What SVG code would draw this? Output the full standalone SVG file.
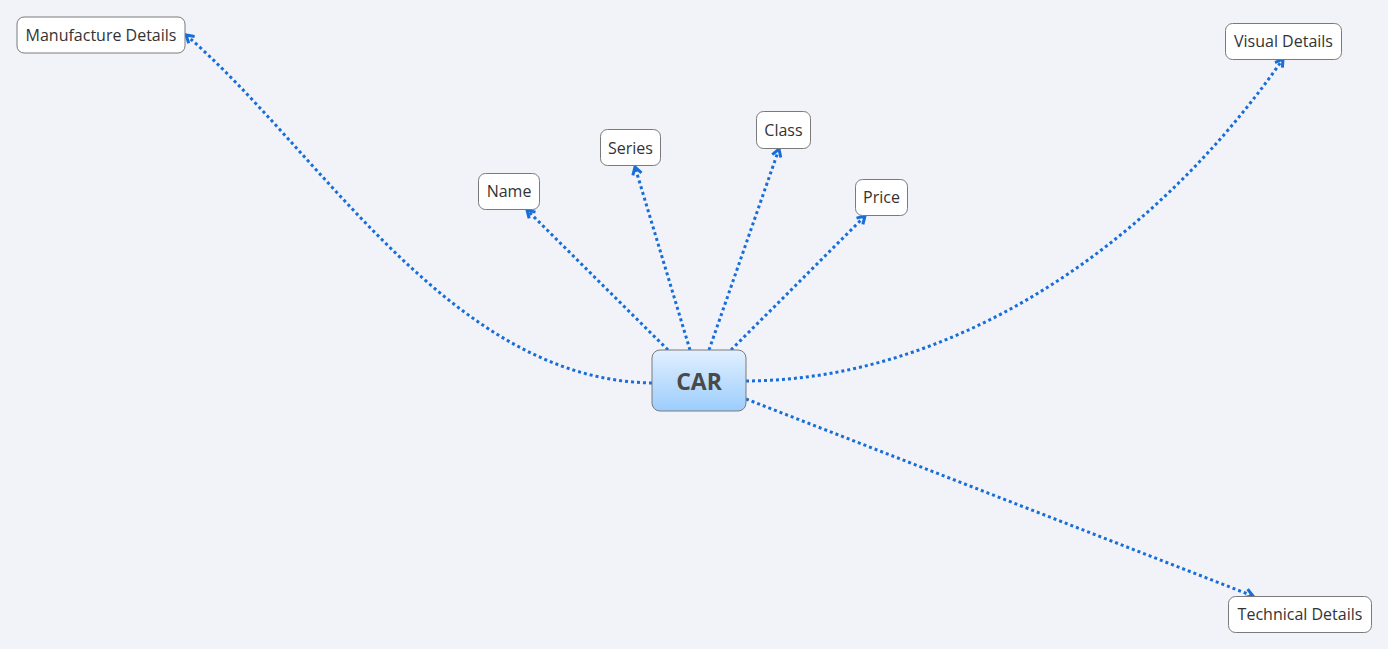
<svg xmlns="http://www.w3.org/2000/svg" width="1388" height="649" viewBox="0 0 1388 649">
<style>
.bg{fill:#f2f3f9}
.box{fill:#ffffff;stroke:#7a7a7a;stroke-width:1}
.lbl{font-family:"Segoe UI","Open Sans","Noto Sans",sans-serif;font-size:16px;fill:#333333;text-anchor:middle;dominant-baseline:central}
.root{font-family:"Open Sans","Noto Sans",sans-serif;font-size:23px;font-weight:bold;fill:#4a4a4a;text-anchor:middle;dominant-baseline:central}
.con{fill:none;stroke:#176ed8;stroke-width:3;stroke-dasharray:3 3}
</style>
<defs>
<linearGradient id="g" x1="0" y1="0" x2="0" y2="1">
<stop offset="0" stop-color="#e2f0ff"/>
<stop offset="1" stop-color="#9ccdfc"/>
</linearGradient>
<marker id="arr" viewBox="0 0 12 12" refX="10" refY="6" markerWidth="12" markerHeight="12" orient="auto" markerUnits="userSpaceOnUse">
<path d="M2.5,1.5 L10,6 L2.5,10.5" fill="none" stroke="#176ed8" stroke-width="3" stroke-linejoin="miter" stroke-dasharray="none"/>
</marker>
</defs>
<rect class="bg" x="0" y="0" width="1388" height="649"/>
<g id="connectors">
<path class="con" marker-end="url(#arr)" d="M652,383 C450,380 320,150 186,35"/>
<path class="con" marker-end="url(#arr)" d="M746,381 C950,380 1150,250 1283,59"/>
<path class="con" marker-end="url(#arr)" d="M746,399 L1253,596"/>
<path class="con" marker-end="url(#arr)" d="M668,350 L527,210"/>
<path class="con" marker-end="url(#arr)" d="M690,350 L635,167"/>
<path class="con" marker-end="url(#arr)" d="M709,350 L779,149"/>
<path class="con" marker-end="url(#arr)" d="M731,350 L865,216"/>
</g>
<g id="car">
<rect x="652" y="350" width="94" height="61" rx="8" fill="url(#g)" stroke="#7a7a7a" stroke-width="1"/>
<text class="root" x="699" y="381">CAR</text>
</g>
<g id="manufacture">
<rect class="box" x="17" y="17" width="168" height="36" rx="7"/>
<text class="lbl" x="101" y="35">Manufacture Details</text>
</g>
<g id="name">
<rect class="box" x="478.5" y="173.5" width="61" height="36" rx="7"/>
<text class="lbl" x="509" y="191">Name</text>
</g>
<g id="series">
<rect class="box" x="600.5" y="129.5" width="60" height="36" rx="7"/>
<text class="lbl" x="630.5" y="148">Series</text>
</g>
<g id="class">
<rect class="box" x="756.5" y="111.5" width="54" height="37" rx="7"/>
<text class="lbl" x="783.5" y="130">Class</text>
</g>
<g id="price">
<rect class="box" x="855.5" y="179.5" width="52" height="36" rx="7"/>
<text class="lbl" x="881.5" y="197">Price</text>
</g>
<g id="visual">
<rect class="box" x="1225.5" y="23.5" width="116" height="36" rx="7"/>
<text class="lbl" x="1283.5" y="41">Visual Details</text>
</g>
<g id="technical">
<rect class="box" x="1228.5" y="596.5" width="143" height="36" rx="7"/>
<text class="lbl" x="1300" y="614">Technical Details</text>
</g>
</svg>
